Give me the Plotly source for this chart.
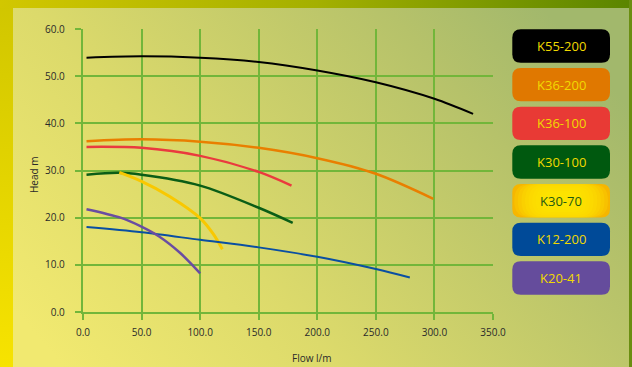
import base64
import plotly.graph_objects as go

# ---------------- data ----------------
series_names = ["K55-200", "K36-200", "K36-100", "K30-100", "K30-70", "K12-200", "K20-41"]

k55_200_flow = [3, 50, 100, 150, 200, 250, 300, 333]
k55_200_head = [53.9, 54.2, 53.9, 53.0, 51.2, 48.7, 45.2, 42.0]

k36_200_flow = [3, 50, 100, 150, 200, 250, 299]
k36_200_head = [36.2, 36.6, 36.1, 34.8, 32.6, 29.3, 24.0]

k36_100_flow = [3, 50, 100, 150, 178]
k36_100_head = [35.0, 34.8, 33.1, 29.7, 26.8]

k30_100_flow = [3, 30, 50, 100, 150, 179]
k30_100_head = [29.1, 29.5, 29.1, 26.8, 22.1, 18.9]

k30_70_flow = [31, 50, 74, 100, 111, 119]
k30_70_head = [29.6, 27.7, 24.5, 19.9, 16.6, 13.3]

k12_200_flow = [3, 50, 100, 150, 200, 250, 279]
k12_200_head = [18.0, 16.9, 15.3, 13.7, 11.7, 9.1, 7.3]

k20_41_flow = [3, 32, 49, 65, 83, 100]
k20_41_head = [21.8, 20.0, 18.2, 16.0, 12.5, 8.2]

x_ticks = [0, 50, 100, 150, 200, 250, 300, 350]
y_ticks = [0, 10, 20, 30, 40, 50, 60]

# ---------------- styles ----------------
W, H = 632, 367
ML, MR, MT, MB = 83, 139, 29, 55
PW, PH = W - ML - MR, H - MT - MB

line_colors = ["#000000", "#e97f00", "#ea3a3e", "#0b5d16", "#f9c800", "#0a4fa2", "#6a4da2"]
line_widths = [2, 2.5, 2.5, 2.5, 3, 2, 2.5]
box_colors = ["#000000", "#e07800", "#e83a35", "#00590f", "#f6b600", "#004a98", "#654c9c"]
text_colors = ["#f2d900"] * 7
text_colors[4] = "#1d5a10"
GRID = "#72b63a"

flows = [k55_200_flow, k36_200_flow, k36_100_flow, k30_100_flow, k30_70_flow, k12_200_flow, k20_41_flow]
heads = [k55_200_head, k36_200_head, k36_100_head, k30_100_head, k30_70_head, k12_200_head, k20_41_head]

fig = go.Figure()
for name, fx, hy, c, w in zip(series_names, flows, heads, line_colors, line_widths):
    fig.add_trace(go.Scatter(x=fx, y=hy, name=name, mode="lines",
                             line=dict(color=c, width=w, shape="spline", smoothing=0.9),
                             showlegend=False, hoverinfo="skip"))

# ---------------- background (svg gradient) ----------------
svg = f'''<svg xmlns="http://www.w3.org/2000/svg" width="{W}" height="{H}" viewBox="0 0 {W} {H}">
<defs>
<linearGradient id="p" x1="0" y1="0.8" x2="1" y2="0.3">
<stop offset="0" stop-color="#f1e970"/>
<stop offset="0.35" stop-color="#dcda6b"/>
<stop offset="0.8" stop-color="#b6c26a"/>
<stop offset="1" stop-color="#a2b86c"/>
</linearGradient>
<linearGradient id="t" x1="0" y1="0" x2="1" y2="0">
<stop offset="0" stop-color="#d2c700"/>
<stop offset="0.5" stop-color="#a4b000"/>
<stop offset="1" stop-color="#5a8500"/>
</linearGradient>
<linearGradient id="l" x1="0" y1="0" x2="0" y2="1">
<stop offset="0" stop-color="#d0c600"/>
<stop offset="1" stop-color="#f7e300"/>
</linearGradient>
</defs>
<rect x="0" y="0" width="{W}" height="{H}" fill="url(#p)"/>
<rect x="0" y="0" width="13" height="{H}" fill="url(#l)"/>
<rect x="0" y="0" width="{W}" height="8" fill="url(#t)"/>
<rect x="629" y="0" width="3" height="{H}" fill="#6a8e10"/>
</svg>'''
src = "data:image/svg+xml;base64," + base64.b64encode(svg.encode()).decode()


def px2paper(px, py):
    return (px - ML) / PW, (H - MB - py) / PH


def rrect(x0, y0, x1, y1, r):
    def p(x, y):
        a, b = px2paper(x, y)
        return f"{a:.5f},{b:.5f}"
    return (f"M {p(x0 + r, y0)} L {p(x1 - r, y0)} Q {p(x1, y0)} {p(x1, y0 + r)} "
            f"L {p(x1, y1 - r)} Q {p(x1, y1)} {p(x1 - r, y1)} L {p(x0 + r, y1)} "
            f"Q {p(x0, y1)} {p(x0, y1 - r)} L {p(x0, y0 + r)} Q {p(x0, y0)} {p(x0 + r, y0)} Z")


shapes = []
annotations = []
bx0, bx1, bh, pitch, top0 = 512.3, 610, 33.4, 38.67, 29.3
for i, name in enumerate(series_names):
    y0 = top0 + i * pitch
    y1 = y0 + bh
    shapes.append(dict(type="path", xref="paper", yref="paper", path=rrect(bx0, y0, bx1, y1, 8.5),
                       fillcolor=box_colors[i], line=dict(width=0), layer="above"))
    if i == 4:
        # soft radial highlight for the yellow box (stacked translucent shapes)
        n = 10
        for k in range(n):
            dx = 2 + k * 3.6
            dy = -6 + k * 1.6
            shapes.append(dict(type="path", xref="paper", yref="paper",
                               path=rrect(bx0 + dx, max(y0, y0 + dy), bx1 - dx, min(y1, y1 - dy),
                                          min(16, (bh - 2 * max(0, dy)) / 2)),
                               fillcolor="#ffe600", opacity=0.22, line=dict(width=0), layer="above"))
    cx, cy = px2paper((bx0 + bx1) / 2, (y0 + y1) / 2)
    annotations.append(dict(x=cx, y=cy, xref="paper", yref="paper", text=name, showarrow=False,
                            font=dict(family="Open Sans", size=13, color=text_colors[i]),
                            xanchor="center", yanchor="middle"))

ax_x, ax_y = px2paper(312, 358)
annotations.append(dict(x=ax_x, y=ax_y, xref="paper", yref="paper", text="Flow l/m", showarrow=False,
                        font=dict(family="Open Sans", size=10, color="#2a2a2a"),
                        xanchor="center", yanchor="middle"))
ay_x, ay_y = px2paper(34, 175)
annotations.append(dict(x=ay_x, y=ay_y, xref="paper", yref="paper", text="Head m", showarrow=False,
                        textangle=-90, font=dict(family="Open Sans", size=10, color="#2a2a2a"),
                        xanchor="center", yanchor="middle"))

axis_common = dict(showgrid=True, gridcolor=GRID, gridwidth=1.5, showline=True, linecolor=GRID,
                   linewidth=2.4, ticks="outside", ticklen=6, tickwidth=1.5, tickcolor=GRID,
                   zeroline=False, tickformat=".1f",
                   tickfont=dict(family="Open Sans", size=10, color="#2a2a2a"))

fig.update_layout(
    width=W, height=H,
    margin=dict(l=ML, r=MR, t=MT, b=MB, pad=0),
    paper_bgcolor="rgba(0,0,0,0)", plot_bgcolor="rgba(0,0,0,0)",
    xaxis=dict(range=[0, 350], tickvals=x_ticks, ticklabelstandoff=4, **axis_common),
    yaxis=dict(range=[0, 60], tickvals=y_ticks, ticklabelstandoff=8, **axis_common),
    shapes=shapes, annotations=annotations,
    images=[dict(source=src, xref="paper", yref="paper", x=-ML / PW, y=1 + MT / PH,
                 sizex=W / PW, sizey=H / PH, sizing="stretch", xanchor="left", yanchor="top",
                 layer="below")],
    showlegend=False,
)

fig.write_html("out.html", config={"displayModeBar": False},
               post_script="document.body.style.margin='0';document.body.style.padding='0';")
